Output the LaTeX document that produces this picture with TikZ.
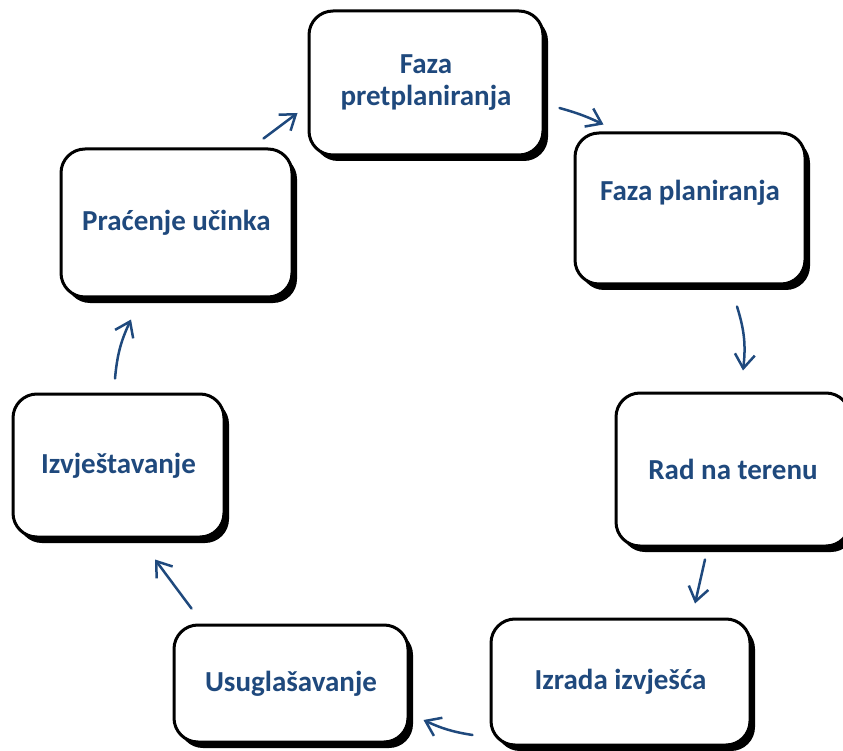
\documentclass[tikz,border=0pt]{standalone}
\usepackage{fontspec}
\setmainfont{Carlito}
\usepackage{tikz}
\usetikzlibrary{arrows.meta}
\usetikzlibrary{shadows}
\definecolor{fazablue}{RGB}{31,73,125}

\begin{document}
\begin{tikzpicture}[x=1pt,y=1pt]
				\useasboundingbox (0,0) rectangle (843,-751);
				\begin{scope}[every node/.style={draw=black,line width=3pt,rounded corners=24pt,fill=white,
						drop shadow={shadow xshift=5pt,shadow yshift=-6pt,fill=black,opacity=1},
						text=fazablue,font=\fontsize{29}{32}\selectfont\bfseries,align=center,inner sep=0pt}]
					\node[minimum width=234pt,minimum height=144pt] (P1) at (426,-83) {Faza\\pretplaniranja};
					\node[minimum width=230pt,minimum height=151pt,text depth=37pt] (P2) at (690,-208.5) {Faza planiranja};
					\node[minimum width=234pt,minimum height=153pt] (P3) at (733,-469.5) {Rad na terenu};
					\node[minimum width=259pt,minimum height=126pt] (P4) at (620.5,-682) {Izrada izvješća};
					\node[minimum width=234pt,minimum height=117pt] (P5) at (291,-683.5) {Usuglašavanje};
					\node[minimum width=211pt,minimum height=143pt] (P6) at (118.5,-465.5) {Izvještavanje};
					\node[minimum width=231pt,minimum height=148pt] (P7) at (176.5,-223) {Praćenje učinka};
				\end{scope}
				
				\begin{scope}[>={Straight Barb[length=14pt,width=20pt]},
					every edge/.style={draw=fazablue,line width=2.5pt,line cap=round}]
					\path [->] ([shift={(-30,9)}]P7.north east) edge ([shift={(-10,-30)}]P1.west);
					\path [->] ([shift={(15,-25)}]P1.east) edge[bend left=5] ([shift={(30,7)}]P2.north west);
					\path [->] ([shift={(47,-21)}]P2.south) edge[bend left=12] ([shift={(10,21)}]P3.north);
					\path [->] ([shift={(-28,-12)}]P3.south) edge ([shift={(74.5,14)}]P4.north);
					\path [->] ([shift={(-17,-53)}]P4.west) edge[bend left=8] ([shift={(14,-36.5)}]P5.east);
					\path [->] ([shift={(19,15)}]P5.north west) edge ([shift={(36.5,-21)}]P6.south);
					\path [->] ([shift={(-3.5,14)}]P6.north) edge[bend left=10] ([shift={(-45.5,-21)}]P7.south);
				\end{scope}
			\end{tikzpicture}
\end{document}
